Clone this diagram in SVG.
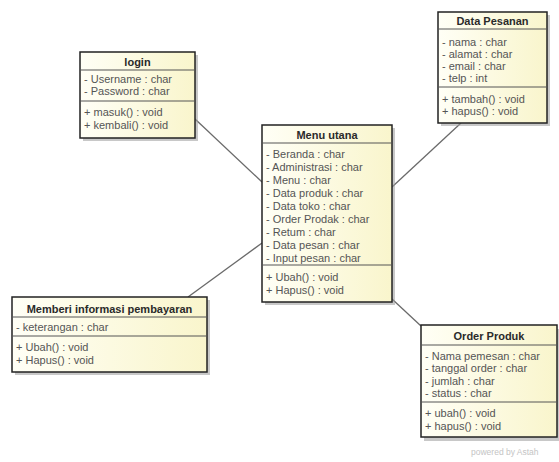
<svg xmlns="http://www.w3.org/2000/svg" width="559" height="462" viewBox="0 0 559 462">
<defs>
<linearGradient id="fill" x1="0" y1="0" x2="1" y2="0">
<stop offset="0" stop-color="#FFFFF6"/>
<stop offset="1" stop-color="#F9F5CC"/>
</linearGradient>
</defs>
<style>
.shadow{fill:#9a9a9a;opacity:0.55}
.box{fill:url(#fill);stroke:#222;stroke-width:1.5}
.sep{stroke:#555;stroke-width:1}
.title{font-family:"Liberation Sans",Arial,sans-serif;font-size:11px;font-weight:bold;fill:#2a2a2a;text-anchor:middle}
.t{font-family:"Liberation Sans",Arial,sans-serif;font-size:11px;fill:#555}
.conn{stroke:#6a6a6a;stroke-width:1.3;fill:none}
.wm{font-family:"Liberation Sans",Arial,sans-serif;font-size:8.5px;fill:#c4c4c4}
</style>
<rect width="559" height="462" fill="#ffffff"/>

<g id="connectors">
<line class="conn" x1="195" y1="119" x2="262" y2="182"/>
<line class="conn" x1="262" y1="243" x2="188" y2="297"/>
<line class="conn" x1="392" y1="187" x2="461" y2="123"/>
<line class="conn" x1="392" y1="299" x2="421" y2="326"/>
</g>

<g id="login">
<rect class="shadow" x="83" y="55" width="115" height="86"/>
<rect class="box" x="80" y="52" width="115" height="86"/>
<line class="sep" x1="80" y1="70" x2="195" y2="70"/>
<line class="sep" x1="80" y1="101" x2="195" y2="101"/>
<text class="title" x="137.5" y="66">login</text>
<text class="t" x="84" y="83">- Username : char</text>
<text class="t" x="84" y="95">- Password : char</text>
<text class="t" x="84" y="116">+ masuk() : void</text>
<text class="t" x="84" y="129">+ kembali() : void</text>
</g>

<g id="data-pesanan">
<rect class="shadow" x="441" y="15" width="109" height="111"/>
<rect class="box" x="438" y="12" width="109" height="111"/>
<line class="sep" x1="438" y1="29" x2="547" y2="29"/>
<line class="sep" x1="438" y1="87" x2="547" y2="87"/>
<text class="title" x="492.5" y="25">Data Pesanan</text>
<text class="t" x="442" y="46">- nama : char</text>
<text class="t" x="442" y="58">- alamat : char</text>
<text class="t" x="442" y="70">- email : char</text>
<text class="t" x="442" y="82">- telp : int</text>
<text class="t" x="442" y="103">+ tambah() : void</text>
<text class="t" x="442" y="115">+ hapus() : void</text>
</g>

<g id="menu-utana">
<rect class="shadow" x="265" y="128" width="130" height="177"/>
<rect class="box" x="262" y="125" width="130" height="177"/>
<line class="sep" x1="262" y1="143" x2="392" y2="143"/>
<line class="sep" x1="262" y1="265" x2="392" y2="265"/>
<text class="title" x="327" y="139">Menu utana</text>
<text class="t" x="266" y="158">- Beranda : char</text>
<text class="t" x="266" y="171">- Administrasi : char</text>
<text class="t" x="266" y="184">- Menu : char</text>
<text class="t" x="266" y="197">- Data produk : char</text>
<text class="t" x="266" y="210">- Data toko : char</text>
<text class="t" x="266" y="223">- Order Prodak : char</text>
<text class="t" x="266" y="236">- Retum : char</text>
<text class="t" x="266" y="249">- Data pesan : char</text>
<text class="t" x="266" y="262">- Input pesan : char</text>
<text class="t" x="266" y="281">+ Ubah() : void</text>
<text class="t" x="266" y="294">+ Hapus() : void</text>
</g>

<g id="memberi-informasi-pembayaran">
<rect class="shadow" x="15" y="300" width="195" height="75"/>
<rect class="box" x="12" y="297" width="195" height="75"/>
<line class="sep" x1="12" y1="317" x2="207" y2="317"/>
<line class="sep" x1="12" y1="336" x2="207" y2="336"/>
<text class="title" x="109.5" y="313">Memberi informasi pembayaran</text>
<text class="t" x="16" y="331">- keterangan : char</text>
<text class="t" x="16" y="351">+ Ubah() : void</text>
<text class="t" x="16" y="364">+ Hapus() : void</text>
</g>

<g id="order-produk">
<rect class="shadow" x="424" y="329" width="137" height="112"/>
<rect class="box" x="421" y="325" width="136" height="112"/>
<line class="sep" x1="421" y1="345" x2="557" y2="345"/>
<line class="sep" x1="421" y1="402" x2="557" y2="402"/>
<text class="title" x="489" y="340">Order Produk</text>
<text class="t" x="425" y="360">- Nama pemesan : char</text>
<text class="t" x="425" y="372">- tanggal order : char</text>
<text class="t" x="425" y="385">- jumlah : char</text>
<text class="t" x="425" y="397">- status : char</text>
<text class="t" x="425" y="417">+ ubah() : void</text>
<text class="t" x="425" y="430">+ hapus() : void</text>
</g>

<text class="wm" x="471" y="455">powered by Astah</text>
</svg>
